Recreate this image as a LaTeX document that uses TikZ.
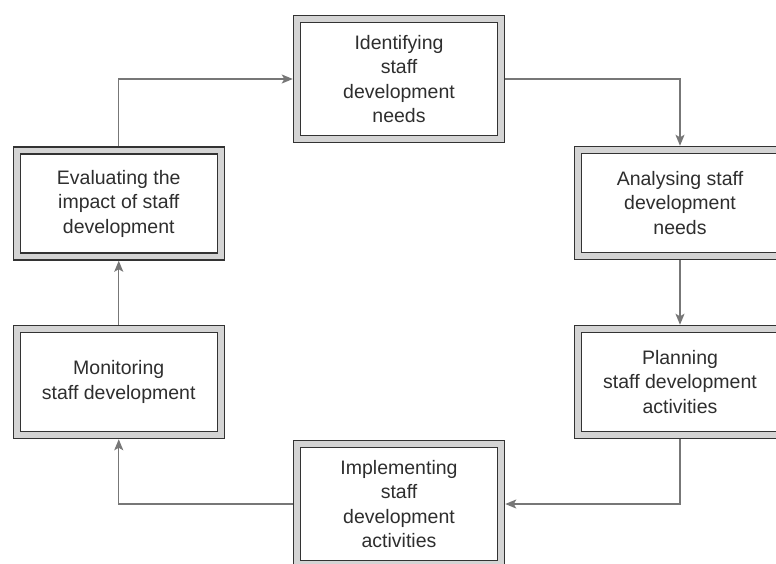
\documentclass[tikz,border=0pt]{standalone}
\usepackage{fontspec}
\setmainfont{Liberation Sans}
\usetikzlibrary{arrows.meta}
\definecolor{boxline}{HTML}{333333}
\definecolor{boxgap}{HTML}{D4D4D4}
\definecolor{txt}{HTML}{2E2E2E}
\definecolor{arrcol}{HTML}{777777}
\begin{document}
\begin{tikzpicture}[x=1pt,y=-1pt,
  stagebox/.style={rectangle, draw=boxline, line width=1.5pt, double=boxgap, double distance=5.5pt,
    fill=white, text=txt, align=center, inner sep=0pt, outer sep=4.25pt,
    minimum width=204pt, font=\fontsize{19.5}{24.5}\selectfont},
  tallbox/.style={stagebox, minimum height=120pt},
  shortbox/.style={stagebox, minimum height=106pt},
  arr/.style={draw=arrcol, line width=1.3pt, -{Stealth[length=11pt,width=9pt,inset=2.5pt]}}
]
\useasboundingbox (0,0) rectangle (776,563);
\clip (0,0) rectangle (776,563);
\fill[white] (0,0) rectangle (776,563);
\node[tallbox] (ident) at (399,79) {Identifying\\staff\\development\\needs};
\node[shortbox] (ana) at (680,203) {Analysing staff\\development\\needs};
\node[shortbox] (plan) at (680,382) {Planning\\staff development\\activities};
\node[tallbox] (impl) at (399,504) {Implementing\\staff\\development\\activities};
\node[shortbox] (mon) at (118.75,382) {Monitoring\\staff development};
\node[shortbox] (eval) at (118.75,203.5) {Evaluating the\\impact of staff\\development};
\draw[arr] (ident.east) -| (ana.north);
\draw[arr] (ana.south) -- (plan.north);
\draw[arr] (plan.south) |- (impl.east);
\draw[arr] (impl.west) -| (mon.south);
\draw[arr] (mon.north) -- (eval.south);
\draw[arr] (eval.north) |- (ident.west);
\end{tikzpicture}
\end{document}
